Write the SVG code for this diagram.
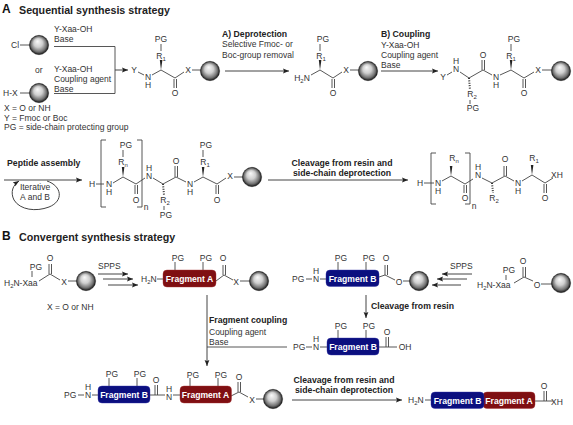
<svg xmlns="http://www.w3.org/2000/svg" width="573" height="425" viewBox="0 0 573 425">
<style>
text{font-family:"Liberation Sans",Arial,sans-serif;font-size:8.5px;fill:#333}
.h{font-size:10.7px;font-weight:bold;fill:#222}
.big{font-size:12px;font-weight:bold;fill:#111}
.b{font-weight:bold;fill:#222;font-size:8.7px}
.a{text-anchor:middle}
.f{font-weight:bold;font-size:8.6px;fill:#fff;text-anchor:middle}
.s{font-size:6px}
.l{fill:none;stroke:#444;stroke-width:.9}
.w{fill:#222}
.d{fill:none;stroke:#333;stroke-width:2;stroke-dasharray:1 1.4}
.ar{fill:none;stroke:#444;stroke-width:1;marker-end:url(#ah)}
.fa{fill:#7f0f12;stroke:#a33;stroke-width:.4}
.fb{fill:#0b0f7f;stroke:#33a;stroke-width:.4}
</style>
<defs>
<marker id="ah" markerUnits="userSpaceOnUse" markerWidth="7" markerHeight="6" refX="6" refY="3" orient="auto"><path d="M0 .6L6 3L0 5.4L1 3z" fill="#222"/></marker>
<radialGradient id="gb" cx=".5" cy=".5" r=".5" fx=".42" fy=".3"><stop offset="0" stop-color="#fafafa"/><stop offset=".45" stop-color="#cfcfcf"/><stop offset=".8" stop-color="#707070"/><stop offset="1" stop-color="#101010"/></radialGradient>
<g id="bead"><circle r="9.700" fill="url(#gb)" stroke="#222" stroke-width=".4"/></g>
</defs>

<g id="title-a"><text x="2" y="13" class="big">A</text><text x="19" y="14" class="h">Sequential synthesis strategy</text></g>

<g id="start-resins">
<text x="11" y="48">Cl</text><path class="l" d="M20 45H30"/><use href="#bead" x="39" y="45"/>
<text x="35" y="73">or</text>
<text x="3" y="96">H-X</text><path class="l" d="M20 93H30"/><use href="#bead" x="39" y="93"/>
<text x="4" y="111">X = O or NH</text><text x="4" y="121">Y = Fmoc or Boc</text><text x="4" y="130">PG = side-chain protecting group</text>
</g>

<g id="conditions-a">
<text x="54" y="32">Y-Xaa-OH</text><text x="54" y="42">Base</text>
<text x="54" y="72">Y-Xaa-OH</text><text x="54" y="82">Coupling agent</text><text x="54" y="92">Base</text>
<text x="222" y="37" class="b">A) Deprotection</text><text x="222" y="47">Selective Fmoc- or</text><text x="222" y="58">Boc-group removal</text>
<text x="381" y="37" class="b">B) Coupling</text><text x="381" y="48">Y-Xaa-OH</text><text x="381" y="58">Coupling agent</text><text x="381" y="68">Base</text>
</g>

<g id="mol-1">
<text x="134" y="73" class="a">Y</text><text x="148" y="80" class="a">N<tspan x="148" dy="8">H</tspan></text>
<path class="l" d="M138 72L144 75M152 75L161 70L175 78L184 72M174 79V88M176.500 79V88M192 70H201"/>
<polygon class="w" points="161,70 159.800,60 162.400,60"/>
<text x="161" y="59" class="a">R<tspan class="s" dy="2">1</tspan></text><path class="l" d="M161 44V51"/><text x="161" y="42" class="a">PG</text>
<text x="175" y="96" class="a">O</text><text x="188" y="73" class="a">X</text><use href="#bead" x="210" y="71"/>
</g>

<g id="mol-2">
<text x="302" y="81" class="a">H<tspan class="s" dy="2">2</tspan><tspan dy="-2">N</tspan></text>
<path class="l" d="M311 75L320 70L333 78L342 72M332 79V88M334.500 79V88M350 70H360"/>
<polygon class="w" points="320,70 318.800,60 321.400,60"/>
<text x="321" y="59" class="a">R<tspan class="s" dy="2">1</tspan></text><path class="l" d="M320 44V51"/><text x="323" y="42" class="a">PG</text>
<text x="333" y="96" class="a">O</text><text x="346" y="73" class="a">X</text><use href="#bead" x="368" y="71"/>
</g>

<g id="mol-3">
<text x="443" y="80" class="a">Y</text><text x="456" y="64" class="a">H<tspan x="456" dy="8">N</tspan></text>
<path class="l" d="M447 75L452 72M460 72L469 78L483 70L492 75M482 70V60M484.500 70V60M500 75L511 70L524 78L534 72M523 79V88M525.500 79V88M542 70H552"/>
<path class="d" d="M469 78L470 90"/>
<polygon class="w" points="511,70 509.800,60 512.400,60"/>
<text x="483" y="58" class="a">O</text><text x="496" y="80" class="a">N<tspan x="496" dy="8">H</tspan></text>
<text x="472" y="97" class="a">R<tspan class="s" dy="2">2</tspan></text><path class="l" d="M470 100V104"/><text x="473" y="111" class="a">PG</text>
<text x="511" y="59" class="a">R<tspan class="s" dy="2">1</tspan></text><path class="l" d="M511 44V51"/><text x="514" y="42" class="a">PG</text>
<text x="524" y="96" class="a">O</text><text x="538" y="73" class="a">X</text><use href="#bead" x="561" y="71"/>
</g>

<g id="iterative">
<text x="7" y="166" class="b">Peptide assembly</text>
<text x="35" y="190" class="a">Iterative</text><text x="35" y="200" class="a">A and B</text>
</g>

<g id="mol-4">
<text x="92" y="187" class="a">H</text><path class="l" d="M96 184H104"/><text x="109" y="187" class="a">N<tspan x="109" dy="8">H</tspan></text>
<path class="l" d="M106 140H101V207H106M137 140H142V207H137"/>
<text x="146" y="210" class="a">n</text>
<path class="l" d="M113 183L123 177L136 184L145 178M135 185V194M137.500 185V194M153 178L163 184L176 177L186 182M175 177V166M177.500 177V166M194 182L203 177L217 184L226 178M216 185V194M218.500 185V194M234 177H243"/>
<polygon class="w" points="123,177 121.800,167 124.400,167"/><polygon class="w" points="203,177 201.800,167 204.400,167"/>
<path class="d" d="M163 184L164 195"/>
<text x="123" y="165" class="a">R<tspan class="s" dy="2">n</tspan></text><path class="l" d="M123 150V157"/><text x="126" y="148" class="a">PG</text>
<text x="136" y="203" class="a">O</text><text x="149" y="171" class="a">H<tspan x="149" dy="8">N</tspan></text>
<text x="165" y="203" class="a">R<tspan class="s" dy="2">2</tspan></text><path class="l" d="M164 206V210"/><text x="166" y="218" class="a">PG</text>
<text x="176" y="164" class="a">O</text><text x="190" y="187" class="a">N<tspan x="190" dy="8">H</tspan></text>
<text x="205" y="165" class="a">R<tspan class="s" dy="2">1</tspan></text><path class="l" d="M203 150V157"/><text x="206" y="148" class="a">PG</text>
<text x="217" y="203" class="a">O</text><text x="230" y="179" class="a">X</text><use href="#bead" x="252" y="177"/>
</g>

<g id="cleavage-a">
<text x="342" y="166" class="b a">Cleavage from resin and</text><text x="342" y="176" class="b a">side-chain deprotection</text>
</g>

<g id="mol-5">
<text x="420" y="186" class="a">H</text><path class="l" d="M424 183H434"/><text x="438" y="186" class="a">N<tspan x="438" dy="8">H</tspan></text>
<path class="l" d="M436 153H431V204H436M465 153H470V204H465"/>
<text x="474" y="209" class="a">n</text>
<path class="l" d="M442 181L451 176L465 184L473 179M464 185V193M466.500 185V193M482 178L492 183L505 176L514 181M504 176V166M506.500 176V166M522 181L532 175L545 183L553 178M544 184V193M546.500 184V193"/>
<polygon class="w" points="451,176 449.800,166 452.400,166"/><polygon class="w" points="532,175 530.800,165 533.400,165"/>
<path class="d" d="M492 183L493 193"/>
<text x="454" y="161" class="a">R<tspan class="s" dy="2">n</tspan></text><text x="465" y="201" class="a">O</text>
<text x="478" y="170" class="a">H<tspan x="478" dy="8">N</tspan></text>
<text x="494" y="201" class="a">R<tspan class="s" dy="2">2</tspan></text><text x="505" y="162" class="a">O</text>
<text x="518" y="186" class="a">N<tspan x="518" dy="8">H</tspan></text>
<text x="534" y="161" class="a">R<tspan class="s" dy="2">1</tspan></text><text x="545" y="201" class="a">O</text><text x="557" y="178" class="a">XH</text>
</g>

<g id="title-b"><text x="2" y="240" class="big">B</text><text x="19" y="241" class="h">Convergent synthesis strategy</text></g>

<g id="aa-left">
<text x="4" y="286">H<tspan class="s" dy="2">2</tspan><tspan dy="-2">N-Xaa</tspan></text>
<text x="36" y="270" class="a">PG</text><path class="l" d="M32 271V277M39 281L50 274L60 280M49 274V264M51.500 274V264M68 281H77"/>
<text x="50" y="261" class="a">O</text><text x="64" y="285" class="a">X</text><use href="#bead" x="86" y="281"/>
<text x="47" y="310">X = O or NH</text>
<text x="98" y="269">SPPS</text>
</g>

<g id="fragment-a-resin">
<text x="141" y="282">H<tspan class="s" dy="2">2</tspan><tspan dy="-2">N</tspan></text><path class="l" d="M157 279H163M175 262V270M203 262V270M216 281L224 275L233 280M223 275V265M225.500 275V265M240 281H250"/>
<rect class="fa" x="163" y="270" width="53" height="17" rx="4"/><text x="189.500" y="282" class="f">Fragment A</text>
<text x="178" y="261" class="a">PG</text><text x="206" y="261" class="a">PG</text><text x="223" y="261" class="a">O</text>
<text x="236" y="285" class="a">X</text><use href="#bead" x="259" y="281"/>
</g>

<g id="fragment-b-resin">
<text x="292" y="282">PG</text><path class="l" d="M306 279H312M320 279H326M338 262V270M366 262V270M379 277L385 275L395 280M385 275V265M387.500 275V265M403 281H410"/>
<text x="316" y="274" class="a">H<tspan x="316" dy="8">N</tspan></text>
<rect class="fb" x="326" y="270" width="53" height="16.500" rx="4"/><text x="352.500" y="281.500" class="f">Fragment B</text>
<text x="341" y="261" class="a">PG</text><text x="369" y="261" class="a">PG</text><text x="386" y="261" class="a">O</text>
<text x="399" y="285" class="a">O</text><use href="#bead" x="419" y="281"/>
</g>

<g id="aa-right">
<text x="450" y="269">SPPS</text>
<text x="477" y="288">H<tspan class="s" dy="2">2</tspan><tspan dy="-2">N-Xaa</tspan></text>
<text x="509" y="273" class="a">PG</text><path class="l" d="M506 275V280M514 283L524 277L533 281M523 277V267M525.500 277V267M541 284H552"/>
<text x="523" y="264" class="a">O</text><text x="537" y="288" class="a">O</text><use href="#bead" x="561" y="283"/>
</g>

<g id="conditions-b">
<text x="371" y="309" class="b">Cleavage from resin</text>
<text x="209" y="323" class="b">Fragment coupling</text><text x="209" y="335">Coupling agent</text><text x="209" y="345">Base</text>
</g>

<g id="fragment-b-acid">
<text x="293" y="350">PG</text><path class="l" d="M306 347H312M320 347H327M338 330V338M366 330V338M379 347H397M386 347V337M388.500 347V337"/>
<text x="316" y="342" class="a">H<tspan x="316" dy="8">N</tspan></text>
<rect class="fb" x="327" y="338" width="52" height="17" rx="4"/><text x="353" y="350" class="f">Fragment B</text>
<text x="341" y="329" class="a">PG</text><text x="369" y="329" class="a">PG</text><text x="387" y="335" class="a">O</text><text x="405" y="350" class="a">OH</text>
</g>

<g id="coupled-resin">
<text x="64" y="398">PG</text><path class="l" d="M78 395H84M92 395H98M109 378V386M137 378V386M150 395H165M155 395V385M157.500 395V385M173 395H180M190 378V386M218 378V386M231 396L239 392L248 397M238 392V382M240.500 392V382M256 399H265"/>
<text x="88" y="390" class="a">H<tspan x="88" dy="8">N</tspan></text>
<rect class="fb" x="98" y="386" width="52" height="17" rx="4"/><text x="124" y="398" class="f">Fragment B</text>
<text x="112" y="377" class="a">PG</text><text x="140" y="377" class="a">PG</text><text x="156" y="383" class="a">O</text>
<text x="169" y="392" class="a">H<tspan x="169" dy="8">N</tspan></text>
<rect class="fa" x="180" y="386" width="51.500" height="17" rx="4"/><text x="205.500" y="398" class="f">Fragment A</text>
<text x="193" y="378" class="a">PG</text><text x="221" y="378" class="a">PG</text><text x="239" y="380" class="a">O</text>
<text x="252" y="403" class="a">X</text><use href="#bead" x="273" y="399"/>
</g>

<g id="cleavage-b"><text x="344" y="383" class="b a">Cleavage from resin and</text><text x="344" y="393" class="b a">side-chain deprotection</text></g>

<g id="final-product">
<text x="408" y="403">H<tspan class="s" dy="2">2</tspan><tspan dy="-2">N</tspan></text><path class="l" d="M425 400H431M535 401H553M544 401V391M546.500 401V391"/>
<rect class="fa" x="483" y="392" width="52" height="16.500" rx="4"/><text x="509" y="403.500" class="f">Fragment A</text>
<rect class="fb" x="431" y="392" width="53" height="16.500" rx="4"/><text x="457.500" y="403.500" class="f">Fragment B</text>
<text x="544" y="389" class="a">O</text><text x="557" y="405" class="a">XH</text>
</g>

<g id="connectors">
<path class="l" d="M54 46.500H115V93.500H54"/>
<path class="ar" d="M115 70H128"/>
<path class="ar" d="M225 71H289"/>
<path class="ar" d="M381 71H438"/>
<path class="ar" d="M4 180H82"/>
<path class="ar" d="M47 181C62 186 64 201 49 207C36 212 20 210 14 200C10 192 13 185 19 181"/>
<path class="ar" d="M268 180H408"/>
<path class="ar" d="M98 274H128"/><path class="ar" d="M103 279H133"/><path class="ar" d="M108 285H138"/>
<path class="ar" d="M472 274H442"/><path class="ar" d="M467 279H437"/><path class="ar" d="M461 285H432"/>
<path class="ar" d="M366 295V318"/>
<path class="ar" d="M207 295V366"/>
<path class="l" d="M207 347H287"/>
<path class="ar" d="M292 400H402"/>
</g>
</svg>
